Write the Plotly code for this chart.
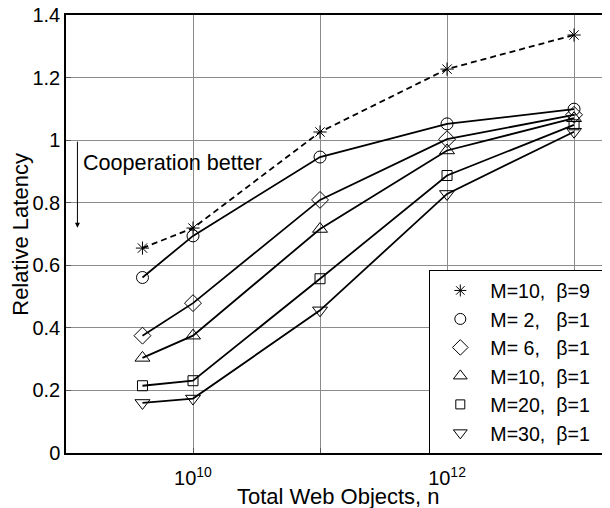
import plotly.graph_objects as go

n_objects = [4e9, 1e10, 1e11, 1e12, 1e13]
lat_M10_b9 = [0.655, 0.719, 1.026, 1.227, 1.336]
lat_M2_b1 = [0.561, 0.694, 0.946, 1.052, 1.099]
lat_M6_b1 = [0.375, 0.479, 0.809, 1.003, 1.081]
lat_M10_b1 = [0.304, 0.375, 0.716, 0.967, 1.070]
lat_M20_b1 = [0.215, 0.231, 0.557, 0.887, 1.049]
lat_M30_b1 = [0.160, 0.174, 0.456, 0.828, 1.027]

S2 = "\u00a0\u00a0"
series = [
    ("M=10," + S2 + "β=9", lat_M10_b9, "asterisk-open", "6px,4px"),
    ("M=\u00a02," + S2 + "\u00a0β=1", lat_M2_b1, "circle-open", "solid"),
    ("M=\u00a06," + S2 + "\u00a0β=1", lat_M6_b1, "diamond-open", "solid"),
    ("M=10," + S2 + "β=1", lat_M10_b1, "triangle-up-open", "solid"),
    ("M=20," + S2 + "β=1", lat_M20_b1, "square-open", "solid"),
    ("M=30," + S2 + "β=1", lat_M30_b1, "triangle-down-open", "solid"),
]
sizes = {"asterisk-open": 11, "circle-open": 12, "diamond-open": 13,
         "triangle-up-open": 13, "square-open": 10, "triangle-down-open": 13}

FONT = "Liberation Sans, Arial, Helvetica, sans-serif"
fig = go.Figure()
for name, ys, sym, dash in series:
    fig.add_trace(go.Scatter(
        x=n_objects, y=ys, mode="lines+markers", showlegend=False,
        line=dict(color="black", width=1.8, dash=dash),
        marker=dict(symbol=sym, size=sizes[sym], color="black",
                    line=dict(color="black", width=1)),
    ))
for name, ys, sym, dash in series:
    fig.add_trace(go.Scatter(
        x=[None], y=[None], mode="markers", name=name + S2,
        marker=dict(symbol=sym, size=sizes[sym] - 1, color="black",
                    line=dict(color="black", width=1)),
    ))

fig.add_annotation(x=9.09, y=0.72, ax=9.09, ay=1.0, axref="x", ayref="y",
                   xref="x", yref="y", text="", showarrow=True,
                   arrowhead=2, arrowsize=1, arrowwidth=1, arrowcolor="black")
fig.add_annotation(x=9.116, y=0.928, xref="x", yref="y", text="Cooperation better",
                   showarrow=False, xanchor="left", yanchor="middle",
                   font=dict(size=21.6, color="black", family=FONT))
# axis titles
fig.add_annotation(x=0.5, y=0, xref="paper", yref="paper", yanchor="top",
                   yshift=-29, text="Total Web Objects, n", showarrow=False,
                   font=dict(size=22, color="black", family=FONT))
fig.add_annotation(x=-0.085, y=0.5, xref="paper", yref="paper", xanchor="center",
                   text="Relative Latency", showarrow=False, textangle=-90,
                   font=dict(size=22, color="black", family=FONT))

# page body adds an 8px margin; compensate so the figure lands at the reference position
fig.update_layout(
    width=602, height=500,
    margin=dict(l=58, r=0, t=7, b=55, autoexpand=False),
    paper_bgcolor="white", plot_bgcolor="white",
    font=dict(family=FONT, color="black", size=20),
    legend=dict(x=0.9945, y=0.418, xanchor="right", yanchor="top",
                bgcolor="white", bordercolor="black", borderwidth=1.3,
                font=dict(size=19.6, family=FONT), itemwidth=50,
                tracegroupgap=0),
    xaxis=dict(
        type="log", range=[9, 13.283], automargin=False,
        tickvals=[1e10, 1e11, 1e12, 1e13],
        ticktext=["10<sup>10</sup>", "", "10<sup>12</sup>", ""],
        showgrid=True, gridcolor="#8c8c8c", gridwidth=1,
        showline=True, linecolor="black", linewidth=1.8, mirror=True,
        ticks="inside", ticklen=5, tickcolor="#555",
        zeroline=False, ticklabelstandoff=6, ticklabeloverflow="allow",
        tickfont=dict(size=20),
    ),
    yaxis=dict(
        range=[0, 1.4], automargin=False,
        tickvals=[0, 0.2, 0.4, 0.6, 0.8, 1.0, 1.2, 1.4],
        showgrid=True, gridcolor="#8c8c8c", gridwidth=1,
        showline=True, linecolor="black", linewidth=1.5,
        ticks="inside", ticklen=5, tickcolor="#555",
        zeroline=False, ticklabeloverflow="allow",
        tickfont=dict(size=20),
    ),
)

fig.write_html("out.html")
